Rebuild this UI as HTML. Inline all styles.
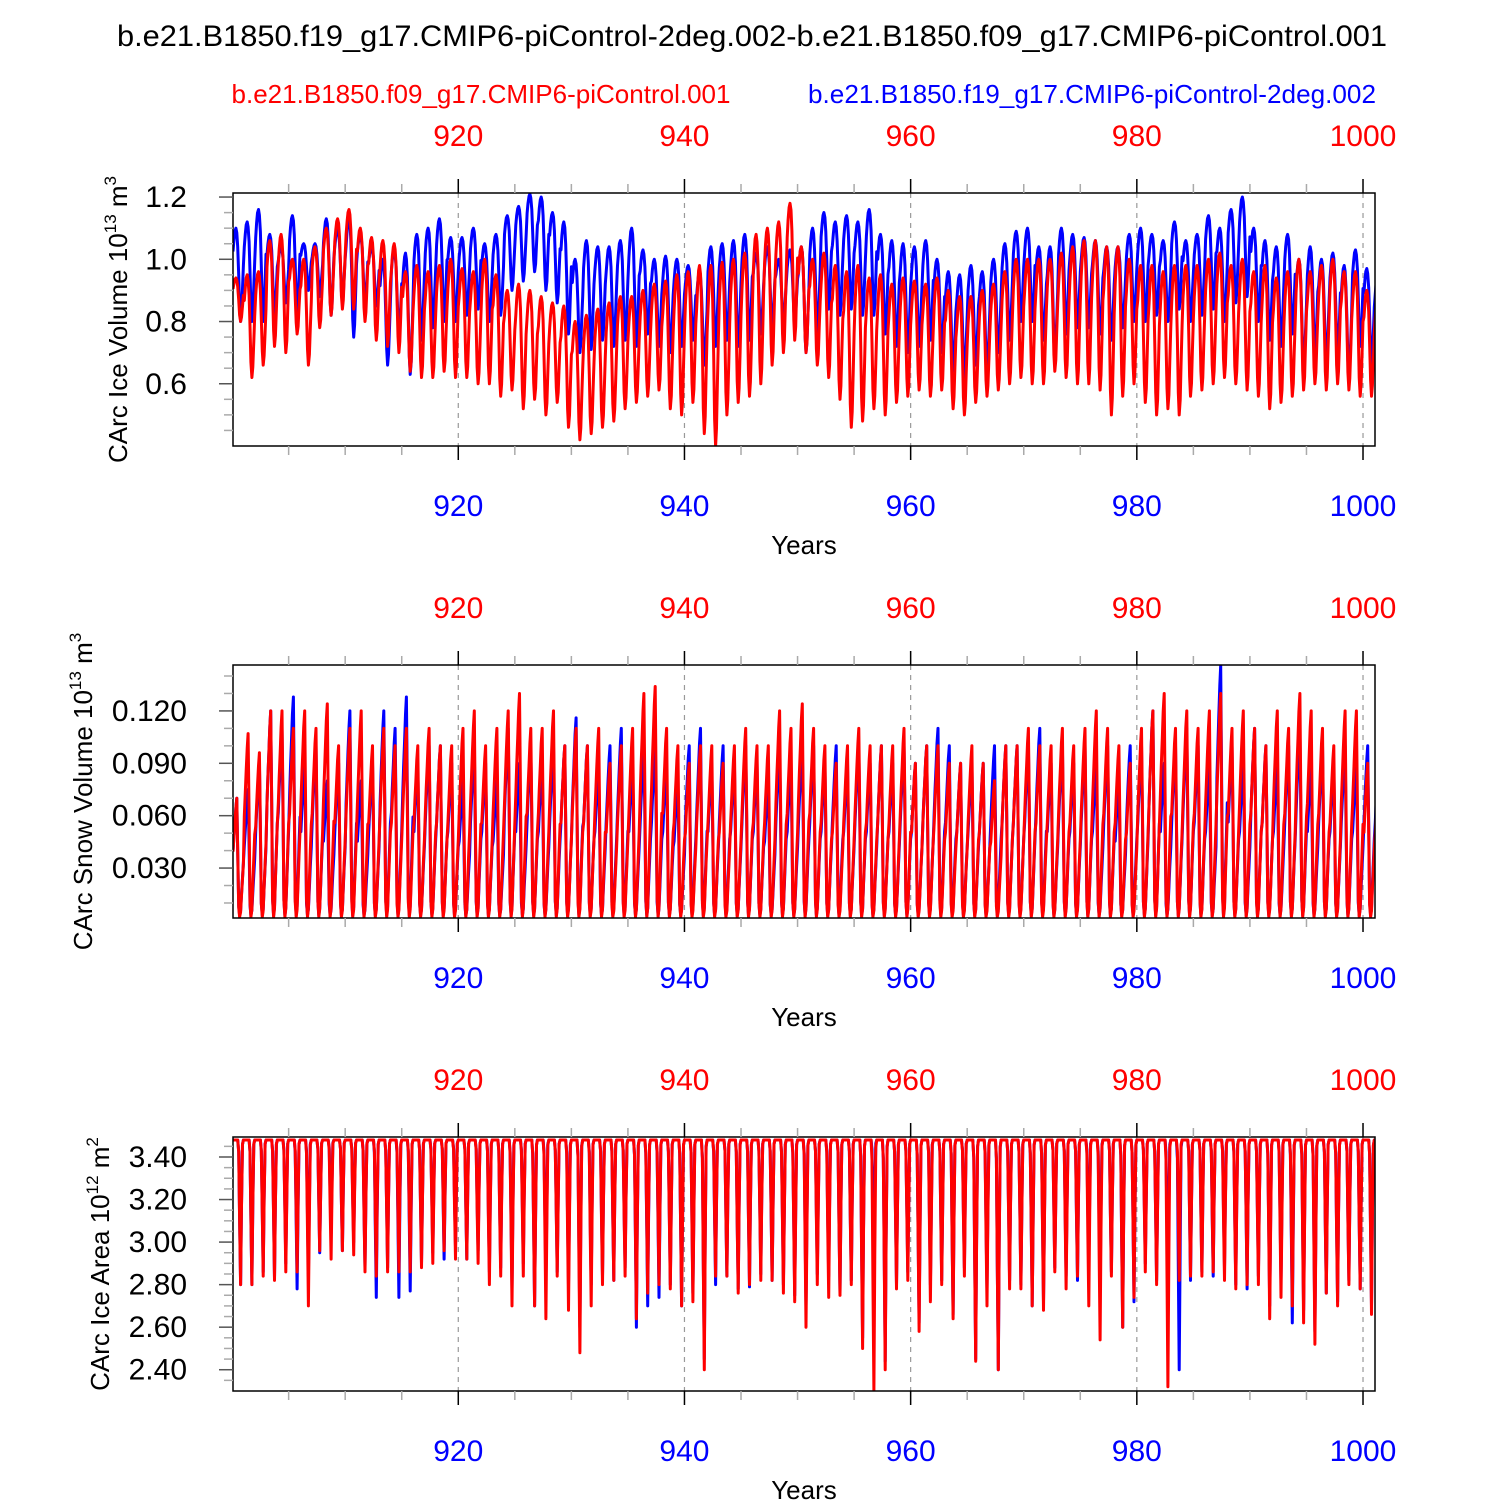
<!DOCTYPE html>
<html><head><meta charset="utf-8"><title>CArc ice</title>
<style>
html,body{margin:0;padding:0;background:#fff;}
svg{display:block;font-family:"Liberation Sans",Arial,sans-serif;}
</style></head>
<body>
<svg id="chart" width="1500" height="1500" viewBox="0 0 1500 1500" xmlns="http://www.w3.org/2000/svg">
<text x="752" y="46" font-size="30" text-anchor="middle" textLength="1270" lengthAdjust="spacingAndGlyphs">b.e21.B1850.f19_g17.CMIP6-piControl-2deg.002-b.e21.B1850.f09_g17.CMIP6-piControl.001</text>
<text x="481" y="103" font-size="26" fill="#ff0000" text-anchor="middle" textLength="499" lengthAdjust="spacingAndGlyphs">b.e21.B1850.f09_g17.CMIP6-piControl.001</text>
<text x="1092" y="103" font-size="26" fill="#0000ff" text-anchor="middle" textLength="568" lengthAdjust="spacingAndGlyphs">b.e21.B1850.f19_g17.CMIP6-piControl-2deg.002</text>
<g id="panels"></g>
</svg>
<script>
const years = [];
for (let y = 900; y <= 1001; y++) years.push(y);
const xTicks = [920, 940, 960, 980, 1000];

const iceVolBlueMax = [1.10,1.12,1.16,1.08,1.04,1.14,1.05,1.05,1.13,1.10,1.14,1.08,1.04,1.00,1.03,1.02,1.08,1.10,1.13,1.07,1.07,1.10,1.05,1.08,1.14,1.17,1.21,1.20,1.15,1.12,1.00,1.06,1.04,1.04,1.06,1.10,1.03,1.00,1.01,1.00,0.98,0.96,1.04,1.05,1.06,1.08,1.02,1.04,1.00,1.03,1.04,1.10,1.15,1.12,1.14,1.12,1.16,1.08,1.06,1.05,1.04,1.06,1.00,0.96,0.95,0.98,0.96,1.00,1.05,1.09,1.10,1.04,1.04,1.10,1.08,1.07,1.06,1.04,1.04,1.08,1.10,1.08,1.06,1.12,1.06,1.08,1.14,1.10,1.16,1.20,1.10,1.06,1.04,1.08,1.00,1.04,1.00,1.02,0.98,1.03,0.97,0.96];
const iceVolBlueMin = [0.80,0.80,0.80,0.82,0.86,0.83,0.90,0.88,0.82,0.86,0.75,0.86,0.85,0.66,0.76,0.63,0.74,0.78,0.80,0.80,0.82,0.84,0.80,0.82,0.90,0.93,0.96,0.90,0.86,0.76,0.70,0.71,0.74,0.72,0.74,0.72,0.76,0.72,0.70,0.72,0.74,0.66,0.72,0.74,0.72,0.74,0.76,0.78,0.80,0.80,0.70,0.76,0.84,0.82,0.84,0.82,0.82,0.76,0.72,0.70,0.72,0.74,0.70,0.64,0.62,0.66,0.64,0.70,0.74,0.80,0.80,0.74,0.68,0.76,0.78,0.78,0.76,0.74,0.78,0.80,0.80,0.82,0.80,0.84,0.80,0.82,0.84,0.80,0.86,0.88,0.80,0.74,0.72,0.76,0.64,0.68,0.66,0.70,0.62,0.72,0.66,0.68];
const iceVolRedMax = [0.94,0.95,0.96,1.06,1.08,1.00,1.00,1.04,1.10,1.13,1.16,1.10,1.07,1.06,1.05,0.96,0.98,0.96,0.98,1.00,0.97,0.96,1.00,0.95,0.90,0.92,0.90,0.88,0.86,0.85,0.80,0.82,0.84,0.86,0.88,0.88,0.90,0.92,0.93,0.95,0.96,0.98,0.98,0.99,1.00,1.02,1.08,1.10,1.12,1.18,1.04,1.00,1.02,0.98,0.96,0.98,0.94,0.95,0.92,0.94,0.93,0.92,0.94,0.90,0.88,0.88,0.90,0.92,0.96,1.00,1.00,1.00,1.00,1.02,1.04,1.06,1.06,1.04,1.04,1.00,0.98,0.98,0.96,0.98,0.98,0.98,1.00,1.02,0.98,1.00,0.96,0.98,0.94,0.96,1.00,0.96,0.98,1.00,0.96,0.96,0.90,0.90];
const iceVolRedMin = [0.80,0.62,0.66,0.72,0.70,0.76,0.66,0.78,0.82,0.84,0.84,0.80,0.74,0.72,0.70,0.64,0.62,0.62,0.64,0.62,0.62,0.60,0.60,0.56,0.58,0.52,0.55,0.50,0.54,0.46,0.42,0.44,0.46,0.48,0.52,0.54,0.56,0.58,0.52,0.50,0.54,0.44,0.40,0.50,0.54,0.56,0.60,0.66,0.70,0.74,0.70,0.66,0.62,0.55,0.46,0.48,0.52,0.50,0.54,0.56,0.58,0.56,0.58,0.52,0.50,0.54,0.56,0.58,0.60,0.62,0.60,0.60,0.64,0.62,0.60,0.60,0.58,0.50,0.56,0.60,0.54,0.50,0.52,0.50,0.56,0.58,0.60,0.62,0.60,0.58,0.56,0.52,0.54,0.56,0.58,0.60,0.58,0.60,0.58,0.56,0.56,0.56];

const snowBlueMax = [0.07,0.075,0.09,0.12,0.11,0.128,0.09,0.10,0.08,0.09,0.12,0.08,0.09,0.12,0.11,0.128,0.09,0.10,0.10,0.09,0.08,0.10,0.09,0.08,0.11,0.09,0.10,0.09,0.10,0.10,0.116,0.10,0.09,0.10,0.11,0.09,0.10,0.10,0.09,0.08,0.10,0.11,0.09,0.10,0.09,0.10,0.09,0.08,0.10,0.09,0.10,0.10,0.09,0.10,0.09,0.10,0.09,0.10,0.09,0.10,0.09,0.10,0.11,0.10,0.09,0.09,0.09,0.10,0.10,0.10,0.10,0.11,0.09,0.10,0.09,0.10,0.09,0.10,0.08,0.10,0.10,0.12,0.09,0.10,0.11,0.10,0.09,0.146,0.10,0.09,0.11,0.10,0.09,0.10,0.11,0.09,0.10,0.09,0.10,0.09,0.10,0.10];
const snowRedMax = [0.07,0.107,0.096,0.12,0.12,0.11,0.12,0.11,0.124,0.10,0.11,0.12,0.10,0.11,0.10,0.11,0.10,0.11,0.10,0.10,0.11,0.12,0.10,0.11,0.12,0.13,0.11,0.11,0.12,0.10,0.11,0.10,0.11,0.09,0.10,0.11,0.13,0.134,0.11,0.10,0.09,0.10,0.10,0.09,0.10,0.11,0.10,0.10,0.12,0.11,0.124,0.11,0.10,0.09,0.10,0.11,0.10,0.10,0.10,0.11,0.09,0.10,0.10,0.09,0.09,0.10,0.09,0.08,0.10,0.10,0.11,0.10,0.10,0.11,0.10,0.11,0.12,0.11,0.10,0.09,0.11,0.12,0.13,0.11,0.12,0.11,0.12,0.13,0.11,0.12,0.11,0.10,0.12,0.11,0.13,0.12,0.11,0.10,0.12,0.12,0.09,0.09];
const snowBlueMin = [0.003];
const snowRedMin = [0.002];

const areaBlueMin = [2.80,2.80,2.86,2.83,2.90,2.78,2.84,2.95,3.04,2.96,3.00,2.88,2.74,2.88,2.74,2.77,2.90,2.95,2.92,2.98,2.92,2.96,2.86,2.88,2.78,2.90,2.70,2.82,2.86,2.80,2.60,2.80,2.84,2.82,2.88,2.60,2.70,2.74,2.80,2.70,2.76,2.45,2.80,2.84,2.78,2.79,2.85,2.82,2.80,2.75,2.70,2.85,2.84,2.76,2.82,2.55,2.94,2.44,2.80,2.86,2.62,2.80,2.82,2.66,2.88,2.45,2.78,2.40,2.82,2.80,2.70,2.72,2.88,2.84,2.82,2.90,2.78,2.86,2.60,2.72,2.90,2.82,2.76,2.40,2.82,2.86,2.84,2.88,2.80,2.78,2.84,2.70,2.82,2.62,2.68,2.58,2.76,2.72,2.82,2.78,2.70,2.70];
const areaRedMin = [2.80,2.80,2.84,2.82,2.86,2.86,2.70,2.96,2.92,2.96,2.94,2.86,2.84,2.86,2.86,2.86,2.88,2.90,2.96,2.92,2.92,2.90,2.80,2.84,2.70,2.84,2.70,2.64,2.84,2.68,2.48,2.70,2.80,2.82,2.84,2.64,2.76,2.80,2.78,2.70,2.72,2.40,2.84,2.84,2.76,2.80,2.82,2.82,2.76,2.72,2.60,2.80,2.74,2.75,2.80,2.50,2.30,2.40,2.78,2.82,2.58,2.72,2.80,2.64,2.84,2.44,2.70,2.40,2.78,2.78,2.70,2.68,2.86,2.78,2.84,2.70,2.54,2.84,2.60,2.74,2.86,2.80,2.32,2.82,2.84,2.84,2.86,2.82,2.78,2.80,2.80,2.64,2.74,2.70,2.62,2.52,2.76,2.70,2.80,2.78,2.66,2.66];
const areaBlueMax = [3.48];
const areaRedMax = [3.48];

const shapeVol = [0.75,0.88,0.97,1.0,0.95,0.8,0.5,0.15,0,0.1,0.35,0.6];
const shapeSnow = [0.55,0.68,0.8,0.92,1.0,0.55,0.08,0,0.04,0.18,0.32,0.45];
const shapeArea = [1,1,1,1,1,1,0.92,0.45,0,0.55,0.97,1];

const NS = 'http://www.w3.org/2000/svg';
const root = document.getElementById('panels');
function mk(tag, attrs, parent) {
  const e = document.createElementNS(NS, tag);
  for (const k in attrs) e.setAttribute(k, attrs[k]);
  (parent || root).appendChild(e);
  return e;
}
const X0 = 233, X1 = 1375, T0 = 900.08, T1 = 1001.06;
const xs = t => X0 + (t - T0) / (T1 - T0) * (X1 - X0);

function series(maxArr, minArr, shape) {
  const pts = [];
  for (let i = 0; i < years.length; i++) {
    const mx = maxArr[Math.min(i, maxArr.length - 1)];
    const mn = minArr[Math.min(i, minArr.length - 1)];
    for (let m = 0; m < 12; m++) {
      pts.push([years[i] + (m + 1) / 12, mn + (mx - mn) * shape[m]]);
    }
  }
  return pts;
}

function panel(p) {
  const g = mk('g', {});
  
  
  const ys = v => p.y1 - (v - p.d0) / (p.d1 - p.d0) * (p.y1 - p.y0);
  const cid = 'clip-' + p.name;
  const cp = mk('clipPath', {id: cid}, g);
  mk('rect', {x: X0, y: p.y0, width: X1 - X0, height: p.y1 - p.y0}, cp);
  xTicks.forEach(t => {
    const gl = mk('line', {x1: xs(t), x2: xs(t), y1: p.y0, y2: p.y1, stroke: '#999', 'stroke-width': 1.2, 'stroke-dasharray': '5,5'}, g);
    
    
  });
  [[p.blue, '#0000ff', 'blue-series'], [p.red, '#ff0000', 'red-series']].forEach(s => {
    const d = s[0].map((q, i) => (i ? 'L' : 'M') + xs(q[0]).toFixed(1) + ',' + ys(q[1]).toFixed(1)).join('');
    const path = mk('path', {d: d, fill: 'none', stroke: s[1], 'stroke-width': 3, 'stroke-linejoin': 'round', 'clip-path': 'url(#' + cid + ')'}, g);
    
    
  });
  const fr = mk('rect', {x: X0, y: p.y0, width: X1 - X0, height: p.y1 - p.y0, fill: 'none', stroke: '#000', 'stroke-width': 1.5}, g);
  
  
  for (let t = 905; t <= 1000; t += 5) {
    const major = t % 20 === 0;
    const L = major ? 14 : 9;
    const c = major ? '#000' : '#aaa';
    mk('line', {x1: xs(t), x2: xs(t), y1: p.y0, y2: p.y0 - L, stroke: c, 'stroke-width': 1.5}, g);
    mk('line', {x1: xs(t), x2: xs(t), y1: p.y1, y2: p.y1 + L, stroke: c, 'stroke-width': 1.5}, g);
  }
  xTicks.forEach(t => {
    const a = mk('text', {x: xs(t), y: p.y0 - 47, 'font-size': 30, fill: '#ff0000', 'text-anchor': 'middle'}, g);
    a.textContent = t;
    
    
    const b = mk('text', {x: xs(t), y: p.y1 + 70, 'font-size': 30, fill: '#0000ff', 'text-anchor': 'middle'}, g);
    b.textContent = t;
    
    
  });
  const xt = mk('text', {x: 804, y: p.y1 + 108, 'font-size': 26, 'text-anchor': 'middle'}, g);
  xt.textContent = 'Years';
  
  
  for (let k = Math.ceil(p.d0 / p.minor); k * p.minor <= p.d1 + 1e-9; k++) {
    const v = k * p.minor;
    const isMajor = p.majors.some(m => Math.abs(m - v) < 1e-6);
    const y = ys(v);
    if (y < p.y0 + 2 || y > p.y1 - 2) continue;
    mk('line', {x1: X0, x2: X0 - (isMajor ? 14 : 9), y1: y, y2: y, stroke: isMajor ? '#555' : '#aaa', 'stroke-width': 1.5}, g);
  }
  p.majors.forEach((v, i) => {
    const tl = mk('text', {x: X0 - 46, y: ys(v) + 10, 'font-size': 30, 'text-anchor': 'end'}, g);
    tl.textContent = p.labels[i];
    
    
  });
  const yt = mk('text', {x: 0, y: 0, 'font-size': 26, 'text-anchor': 'middle', transform: 'translate(' + p.tx + ',' + ((p.y0 + p.y1) / 2) + ') rotate(-90)'}, g);
  
  
  yt.innerHTML = p.title + ' 10<tspan dy="-11" font-size="17">' + p.exp + '</tspan><tspan dy="11"> m</tspan><tspan dy="-11" font-size="17">' + p.unitExp + '</tspan>';
}

panel({name: 'ice-volume-panel', y0: 193, y1: 446, d0: 0.40, d1: 1.213, minor: 0.05,
  majors: [0.6, 0.8, 1.0, 1.2], labels: ['0.6', '0.8', '1.0', '1.2'],
  blue: series(iceVolBlueMax, iceVolBlueMin, shapeVol), red: series(iceVolRedMax, iceVolRedMin, shapeVol),
  tx: 127, title: 'CArc Ice Volume', exp: '13', unitExp: '3'});
panel({name: 'snow-volume-panel', y0: 665, y1: 918, d0: 0.0014, d1: 0.1463, minor: 0.01,
  majors: [0.03, 0.06, 0.09, 0.12], labels: ['0.030', '0.060', '0.090', '0.120'],
  blue: series(snowBlueMax, snowBlueMin, shapeSnow), red: series(snowRedMax, snowRedMin, shapeSnow),
  tx: 92, title: 'CArc Snow Volume', exp: '13', unitExp: '3'});
panel({name: 'ice-area-panel', y0: 1137, y1: 1391, d0: 2.30, d1: 3.494, minor: 0.05,
  majors: [2.4, 2.6, 2.8, 3.0, 3.2, 3.4], labels: ['2.40', '2.60', '2.80', '3.00', '3.20', '3.40'],
  blue: series(areaBlueMax, areaBlueMin, shapeArea), red: series(areaRedMax, areaRedMin, shapeArea),
  tx: 109, title: 'CArc Ice Area', exp: '12', unitExp: '2'});
</script>
</body></html>
